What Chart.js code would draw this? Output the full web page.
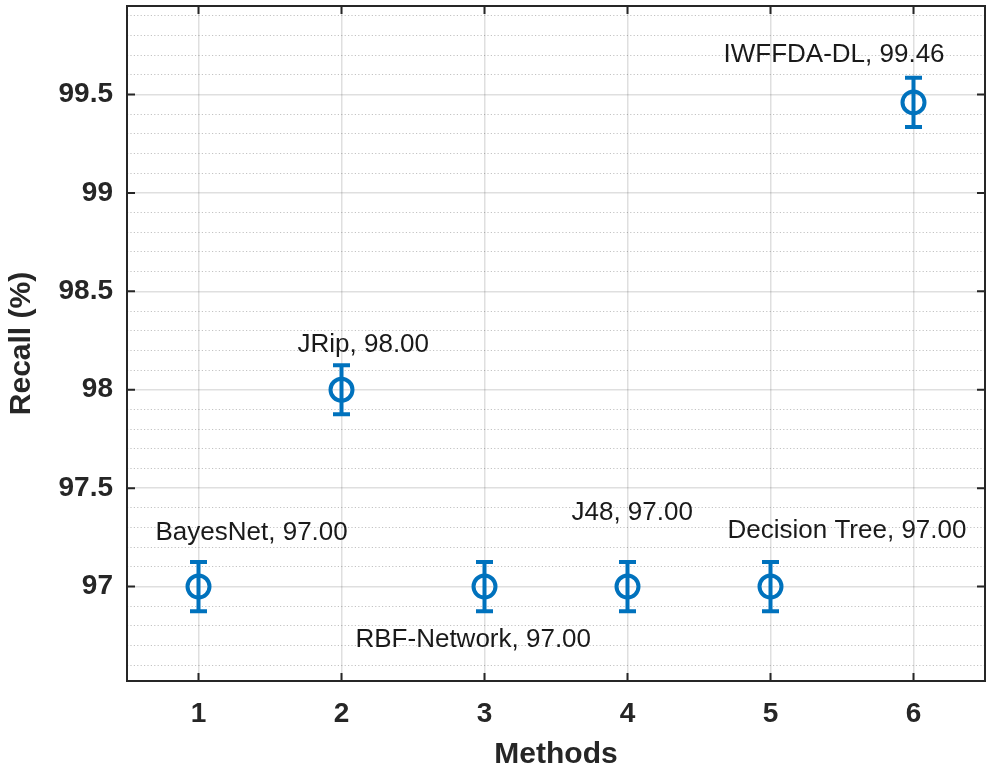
<!DOCTYPE html>
<html>
<head>
<meta charset="utf-8">
<script src="https://cdn.jsdelivr.net/npm/chart.js@4.4.0/dist/chart.umd.min.js"></script>
<style>
  html, body { margin: 0; padding: 0; background: #fff; }
  #wrap { width: 991px; height: 773px; }
</style>
</head>
<body>
<div id="wrap"><canvas id="recallChart"></canvas></div>
<script>
const methodIdx = [1, 2, 3, 4, 5, 6];
const methodNames = ['BayesNet', 'JRip', 'RBF-Network', 'J48', 'Decision Tree', 'IWFFDA-DL'];
const recall = [97.00, 98.00, 97.00, 97.00, 97.00, 99.46];
const recallErr = [0.125, 0.125, 0.125, 0.125, 0.125, 0.125];

const blue = '#0072BD';
const axisColor = '#262626';
const fontFam = '"Liberation Sans", Arial, Helvetica, sans-serif';

function isMajor(v) {
    return Math.abs(v * 2 - Math.round(v * 2)) < 1e-6;
}

// no extra edge padding for half tick labels
function noEdgePad(scale) {
    scale.paddingTop = 0;
    scale.paddingBottom = 0;
    scale.paddingLeft = 0;
    scale.paddingRight = 0;
}

// text offsets (px) from each marker: left edge of text, middle of text
const labelOffsets = [[-43, -54], [-44, -45], [-129, 53], [-56, -74], [-43, -56], [-190, -48]];

const extrasPlugin = {
    id: 'extras',
    afterDatasetsDraw(chart) {
        const ctx = chart.ctx;
        const xs = chart.scales.x, ys = chart.scales.y;
        ctx.save();
        // error bars
        ctx.strokeStyle = blue;
        ctx.lineWidth = 4;
        ctx.lineCap = 'butt';
        methodIdx.forEach((m, i) => {
            const px = xs.getPixelForValue(m);
            const top = ys.getPixelForValue(recall[i] + recallErr[i]);
            const bot = ys.getPixelForValue(recall[i] - recallErr[i]);
            ctx.beginPath();
            ctx.moveTo(px, top); ctx.lineTo(px, bot);
            ctx.moveTo(px - 8.5, top); ctx.lineTo(px + 8.5, top);
            ctx.moveTo(px - 8.5, bot); ctx.lineTo(px + 8.5, bot);
            ctx.stroke();
        });
        // text labels
        ctx.fillStyle = '#1a1a1a';
        ctx.font = '26px ' + fontFam;
        ctx.textAlign = 'left';
        ctx.textBaseline = 'middle';
        methodIdx.forEach((m, i) => {
            const px = xs.getPixelForValue(m);
            const py = ys.getPixelForValue(recall[i]);
            ctx.fillText(methodNames[i] + ', ' + recall[i].toFixed(2), px + labelOffsets[i][0], py + labelOffsets[i][1]);
        });
        ctx.restore();
    },
    afterDraw(chart) {
        const ctx = chart.ctx;
        const a = chart.chartArea;
        const xs = chart.scales.x, ys = chart.scales.y;
        ctx.save();
        ctx.strokeStyle = axisColor;
        ctx.lineWidth = 2;
        ctx.strokeRect(a.left, a.top, a.right - a.left, a.bottom - a.top);
        ctx.beginPath();
        xs.ticks.forEach(t => {
            const px = xs.getPixelForValue(t.value);
            ctx.moveTo(px, a.bottom); ctx.lineTo(px, a.bottom - 8);
            ctx.moveTo(px, a.top); ctx.lineTo(px, a.top + 8);
        });
        ys.ticks.forEach(t => {
            if (!isMajor(t.value)) return;
            const py = ys.getPixelForValue(t.value);
            ctx.moveTo(a.left, py); ctx.lineTo(a.left + 8, py);
            ctx.moveTo(a.right, py); ctx.lineTo(a.right - 8, py);
        });
        ctx.stroke();
        ctx.restore();
    }
};

const ctx = document.getElementById('recallChart').getContext('2d');
new Chart(ctx, {
    type: 'scatter',
    data: {
        datasets: [{
            label: 'Recall',
            data: methodIdx.map((m, i) => ({ x: m, y: recall[i] })),
            borderColor: blue,
            backgroundColor: 'rgba(0,0,0,0)',
            pointRadius: 11,
            pointBorderWidth: 4,
            pointHoverRadius: 11
        }]
    },
    options: {
        responsive: true,
        maintainAspectRatio: false,
        animation: false,
        layout: { autoPadding: false, padding: { top: 6, right: 6, left: 0, bottom: 0 } },
        plugins: { legend: { display: false }, tooltip: { enabled: false } },
        scales: {
            x: {
                type: 'linear',
                min: 0.5,
                max: 6.5,
                afterBuildTicks(scale) { scale.ticks = methodIdx.map(v => ({ value: v })); },
                afterFit(scale) { scale.height = 92; noEdgePad(scale); },
                ticks: {
                    autoSkip: false,
                    maxRotation: 0,
                    padding: 16,
                    color: axisColor,
                    font: { family: fontFam, size: 28, weight: 'bold' },
                    callback: v => String(v)
                },
                grid: { color: 'rgba(38,38,38,0.15)', lineWidth: 1.5, drawTicks: false },
                border: { display: false },
                title: {
                    display: true,
                    text: 'Methods',
                    color: axisColor,
                    padding: { top: 0, bottom: 0 },
                    font: { family: fontFam, size: 30, weight: 'bold' }
                }
            },
            y: {
                min: 96.52,
                max: 99.95,
                afterFit(scale) { scale.width = 127; noEdgePad(scale); },
                ticks: {
                    stepSize: 0.1,
                    includeBounds: false,
                    autoSkip: false,
                    padding: 14,
                    color: axisColor,
                    font: { family: fontFam, size: 28, weight: 'bold' },
                    callback: v => isMajor(v) ? String(Math.round(v * 10) / 10) : ''
                },
                grid: {
                    drawTicks: false,
                    color: c => isMajor(c.tick.value) ? 'rgba(38,38,38,0.15)' : 'rgba(38,38,38,0.28)',
                    lineWidth: c => isMajor(c.tick.value) ? 1.5 : 1
                },
                border: {
                    display: false,
                    dash: c => (c.tick && !isMajor(c.tick.value)) ? [1.2, 2.2] : []
                },
                title: {
                    display: true,
                    text: 'Recall (%)',
                    color: axisColor,
                    padding: { top: 4, bottom: 0 },
                    font: { family: fontFam, size: 30, weight: 'bold' }
                }
            }
        }
    },
    plugins: [extrasPlugin]
});
</script>
</body>
</html>
